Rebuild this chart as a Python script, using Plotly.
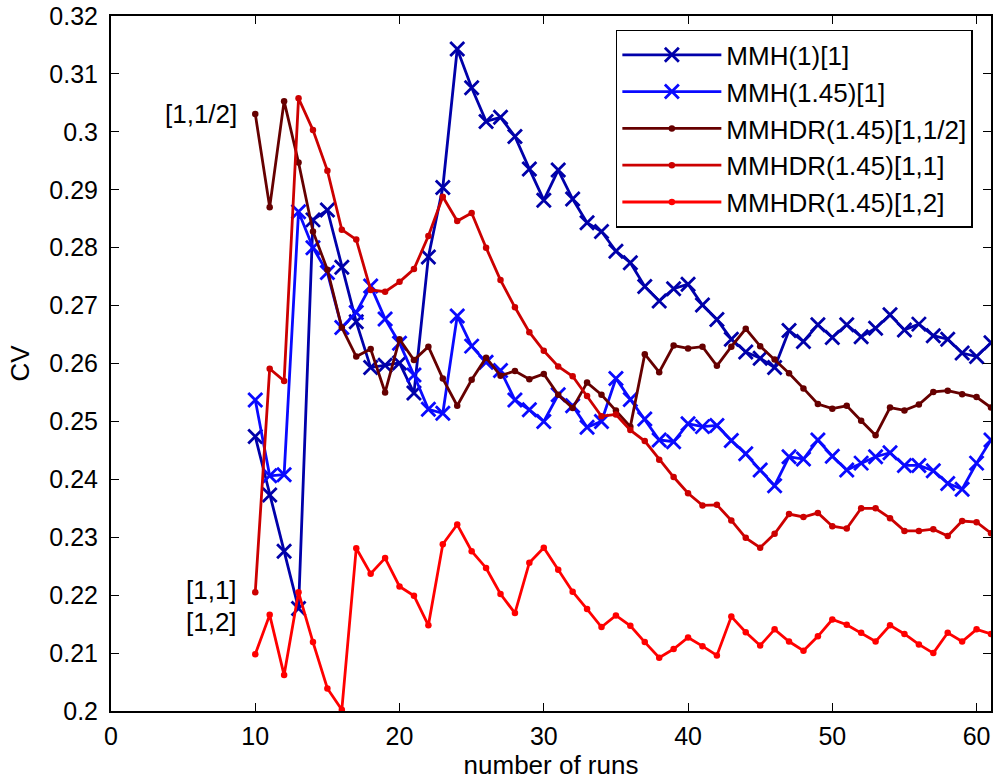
import plotly.graph_objects as go

runs = list(range(10, 62))

mmh_1 = [0.2474, 0.2373, 0.2276, 0.2177, 0.2848, 0.2865, 0.2766, 0.2672, 0.2593, 0.2597,
         0.2601, 0.2549, 0.2784, 0.2904, 0.3143, 0.3076, 0.3018, 0.3025, 0.2992, 0.2936,
         0.2882, 0.2934, 0.2884, 0.2843, 0.2828, 0.2794, 0.2774, 0.2733, 0.2708, 0.2729,
         0.2737, 0.2701, 0.2676, 0.2642, 0.2620, 0.2609, 0.2593, 0.2657, 0.2638, 0.2667,
         0.2645, 0.2667, 0.2646, 0.2661, 0.2684, 0.2658, 0.2668, 0.2648, 0.2642, 0.2618,
         0.2612, 0.2636]

mmh_145 = [0.2537, 0.2406, 0.2408, 0.2862, 0.2800, 0.2757, 0.2662, 0.2688, 0.2734, 0.2677,
           0.2635, 0.2580, 0.2521, 0.2514, 0.2682, 0.2630, 0.2602, 0.2588, 0.2537, 0.2520,
           0.2500, 0.2546, 0.2527, 0.2490, 0.2500, 0.2574, 0.2538, 0.2504, 0.2468, 0.2465,
           0.2496, 0.2491, 0.2493, 0.2467, 0.2444, 0.2416, 0.2389, 0.2439, 0.2435, 0.2468,
           0.2440, 0.2416, 0.2428, 0.2439, 0.2446, 0.2424, 0.2424, 0.2415, 0.2393, 0.2383,
           0.2428, 0.2468]

mmhdr_half = [0.3031, 0.2870, 0.3053, 0.2947, 0.2828, 0.2762, 0.2662, 0.2612, 0.2625, 0.2550,
              0.2642, 0.2606, 0.2629, 0.2574, 0.2527, 0.2572, 0.2610, 0.2579, 0.2587, 0.2573,
              0.2582, 0.2546, 0.2523, 0.2567, 0.2546, 0.2519, 0.2491, 0.2616, 0.2585, 0.2631,
              0.2626, 0.2629, 0.2596, 0.2629, 0.2660, 0.2630, 0.2607, 0.2583, 0.2557, 0.2530,
              0.2522, 0.2527, 0.2501, 0.2476, 0.2524, 0.2519, 0.2529, 0.2551, 0.2553, 0.2547,
              0.2542, 0.2524]

mmhdr_one = [0.2205, 0.2591, 0.2570, 0.3058, 0.3003, 0.2933, 0.2831, 0.2814, 0.2727, 0.2724,
             0.2741, 0.2763, 0.2820, 0.2888, 0.2846, 0.2860, 0.2800, 0.2744, 0.2697, 0.2654,
             0.2622, 0.2595, 0.2578, 0.2544, 0.2509, 0.2512, 0.2485, 0.2466, 0.2434, 0.2404,
             0.2376, 0.2355, 0.2356, 0.2329, 0.2299, 0.2282, 0.2306, 0.2340, 0.2335, 0.2342,
             0.2319, 0.2315, 0.2350, 0.2350, 0.2333, 0.2311, 0.2311, 0.2314, 0.2302, 0.2328,
             0.2326, 0.2307]

mmhdr_two = [0.2098, 0.2166, 0.2062, 0.2205, 0.2119, 0.2039, 0.2002, 0.2281, 0.2237, 0.2264,
             0.2215, 0.2199, 0.2148, 0.2288, 0.2322, 0.2276, 0.2247, 0.2202, 0.2169, 0.2256,
             0.2282, 0.2244, 0.2206, 0.2176, 0.2145, 0.2165, 0.2147, 0.2119, 0.2092, 0.2107,
             0.2127, 0.2112, 0.2096, 0.2163, 0.2136, 0.2113, 0.2141, 0.2120, 0.2104, 0.2129,
             0.2158, 0.2149, 0.2135, 0.2120, 0.2148, 0.2133, 0.2115, 0.2100, 0.2135, 0.2120,
             0.2141, 0.2133]

names = ["MMH(1)[1]", "MMH(1.45)[1]", "MMHDR(1.45)[1,1/2]", "MMHDR(1.45)[1,1]", "MMHDR(1.45)[1,2]"]
series = [mmh_1, mmh_145, mmhdr_half, mmhdr_one, mmhdr_two]
colors = ["#0000AA", "#0A0AFF", "#660000", "#CC0000", "#FF0000"]
markers = ["x", "x", "dot", "dot", "dot"]

x_ticks = [0, 10, 20, 30, 40, 50, 60]
y_ticks = [0.2, 0.21, 0.22, 0.23, 0.24, 0.25, 0.26, 0.27, 0.28, 0.29, 0.3, 0.31, 0.32]
y_tick_text = ["0.2", "0.21", "0.22", "0.23", "0.24", "0.25", "0.26", "0.27", "0.28", "0.29", "0.3", "0.31", "0.32"]

side_labels = ["[1,1/2]", "[1,1]", "[1,2]"]
side_label_y = [0.3031, 0.2209, 0.2154]

FONT = "Liberation Sans, Arial, sans-serif"

fig = go.Figure()
for i, (name, ys, col, mk) in enumerate(zip(names, series, colors, markers)):
    if mk == "x":
        marker = dict(symbol="x-thin", size=14, line=dict(color=col, width=2.8), color=col)
    else:
        marker = dict(symbol="circle", size=6.5, color=col, line=dict(width=0))
    fig.add_trace(go.Scatter(
        x=runs, y=ys, name=name, mode="lines+markers",
        line=dict(color=col, width=2.8), marker=marker,
    ))

for txt, yy in zip(side_labels, side_label_y):
    fig.add_annotation(x=8.9, y=yy, text=txt, showarrow=False, xanchor="right",
                       yanchor="middle", font=dict(size=26, color="black", family=FONT))

axis_common = dict(
    showgrid=False, zeroline=False, showline=True, linecolor="black", linewidth=2,
    mirror="ticks", ticks="inside", ticklen=8, tickwidth=1.3, tickcolor="black",
    tickfont=dict(size=25, color="black", family=FONT),
)

fig.update_layout(
    width=994, height=782,
    margin=dict(l=111, r=1, t=16, b=71),
    paper_bgcolor="white", plot_bgcolor="white",
    font=dict(family=FONT, size=26, color="black"),
    xaxis=dict(range=[0, 61], tickvals=x_ticks, ticklabelstandoff=2,
               title=dict(text="number of runs", standoff=2, font=dict(size=26)), **axis_common),
    yaxis=dict(range=[0.2, 0.32], tickvals=y_ticks, ticktext=y_tick_text, ticklabelstandoff=6,
               title=dict(text="CV", standoff=12, font=dict(size=26)), **axis_common),
    legend=dict(x=0.5737, y=0.98, xanchor="left", yanchor="top",
                bordercolor="black", borderwidth=1.5, bgcolor="white",
                font=dict(size=26, family=FONT), tracegroupgap=0,
                itemwidth=99),
    showlegend=True,
)

fig.write_html("out.html", config={"displayModeBar": False},
               post_script="document.body.style.margin='0';document.body.style.overflow='hidden';")
